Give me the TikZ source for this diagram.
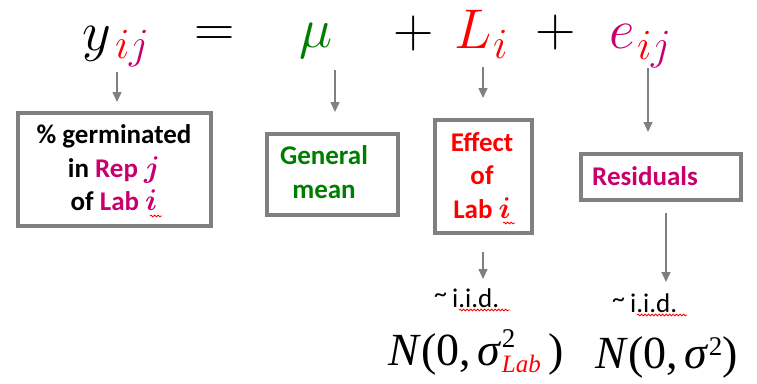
\RequirePackage{fix-cm}
\documentclass[tikz,border=0pt]{standalone}
\usepackage{fontspec}
\newfontfamily\calibri{Carlito}
\newfontfamily\tnr{Liberation Serif}
\usetikzlibrary{arrows.meta,decorations.pathmorphing}
\definecolor{mag}{RGB}{200,0,110}
\definecolor{grn}{RGB}{0,125,0}
\definecolor{frame}{RGB}{128,128,128}
\definecolor{redx}{RGB}{255,0,0}
\begin{document}
\begin{tikzpicture}[x=1pt,y=-1pt,
  box/.style={draw=frame,line width=4pt,inner sep=0pt},
  lbl/.style={font=\calibri\bfseries\fontsize{27}{33.5}\selectfont,align=center,inner sep=0pt},
  arr/.style={draw=frame,line width=1.4pt,-{Triangle[length=10pt,width=9pt]}},
  big/.style={inner sep=0pt,anchor=base west,font=\fontsize{56}{60}\selectfont},
  sub/.style={inner sep=0pt,anchor=base west,font=\fontsize{43}{45}\selectfont},
  iid/.style={inner sep=0pt,anchor=base west,font=\calibri\fontsize{27}{30}\selectfont},
  norm/.style={inner sep=0pt,anchor=base west,font=\tnr\fontsize{46}{50}\selectfont},
  squig/.style={draw=redx,line width=0.8pt,decorate,decoration={snake,segment length=3.5pt,amplitude=0.9pt}}]
\path[use as bounding box] (0,0) rectangle (757,383);

% equation
\node[big] (ysym) at (82,50) {$y$};
\node[sub,text=redx] (ysi) at (115,58) {$i$};
\node[sub,text=mag] (ysj) at (129,58) {$j$};
\node[big,anchor=base] (eq) at (214.5,46.5) {$=$};
\node[big,anchor=base,text=grn] (mu) at (316,47) {$\mu$};
\node[big,anchor=base] (p1) at (413.5,47) {$+$};
\node[big,text=redx] (Lsym) at (454,48) {$L$};
\node[sub,text=redx] (Lsi) at (493,58) {$i$};
\node[big,anchor=base] (p2) at (556,46) {$+$};
\node[big,text=mag] (esym) at (609,48) {$e$};
\node[sub,text=redx] (esi) at (637,59) {$i$};
\node[sub,text=mag] (esj) at (651,59) {$j$};

% boxes
\node[box,minimum width=193pt,minimum height=113pt] (b1) at (114.5,169.5) {};
\node[box,minimum width=131pt,minimum height=81pt] (b2) at (332.5,174.5) {};
\node[box,minimum width=97pt,minimum height=113pt] (b3) at (483.5,176.5) {};
\node[box,minimum width=160pt,minimum height=46pt] (b4) at (661,177) {};

\node[lbl] (t1) at (114,168) {\% germinated\\ in {\color{mag}Rep \fontsize{30}{30}\selectfont\boldmath$j$}\\ of {\color{mag}Lab \fontsize{30}{30}\selectfont\boldmath$i$}};
\node[lbl,text=grn] (t2) at (324,172) {General\\ mean};
\node[lbl,text=redx] (t3) at (482,175.5) {Effect\\ of\\ Lab {\fontsize{30}{30}\selectfont\boldmath$i$}};
\node[lbl,text=mag,anchor=base west] (t4) at (592,185) {Residuals};

% arrows from equation to boxes
\coordinate (cy) at (117,72);
\coordinate (cmu) at (335,70);
\coordinate (cL) at (483,67);
\coordinate (ce) at (648,68);
\draw[arr,shorten >=9pt] (cy) -- (cy |- b1.north);
\draw[arr,shorten >=20pt] (cmu) -- (cmu |- b2.north);
\draw[arr,shorten >=20pt] (cL) -- (cL |- b3.north);
\draw[arr,shorten >=20pt] (ce) -- (ce |- b4.north);

% distributions
\node[iid] (iid1) at (434,307) {\raisebox{5pt}{\fontsize{26}{26}\selectfont\textasciitilde}\hspace{5pt}i.i.d.};
\node[iid] (iid2) at (612,312) {\raisebox{5pt}{\fontsize{26}{26}\selectfont\textasciitilde}\hspace{5pt}i.i.d.};
\coordinate (cl1) at (483,252);
\coordinate (cl2) at (483,279);
\coordinate (cr1) at (666,213);
\coordinate (cr2) at (666,282);
\draw[arr] (cl1) -- (cl2);
\draw[arr] (cr1) -- (cr2);

\node[norm] (n1) at (388,365) {\textit{N}(0,\hspace{7pt}\textit{σ}\rlap{\raisebox{18pt}{\fontsize{27}{27}\selectfont 2}}\raisebox{-7pt}{\fontsize{25}{25}\selectfont\color{redx}\textit{Lab}}\hspace{8pt})};
\node[norm] (n2) at (595,368) {\textit{N}(0,\hspace{7pt}\textit{σ}\raisebox{13pt}{\fontsize{27}{27}\selectfont 2})};

% spell-check squiggles
\draw[squig] (459,310) -- (510,310);
\draw[squig] (637,315) -- (687,315);
\draw[squig] (150,216) -- (162,216);
\draw[squig] (503,223) -- (515,223);
\end{tikzpicture}
\end{document}
